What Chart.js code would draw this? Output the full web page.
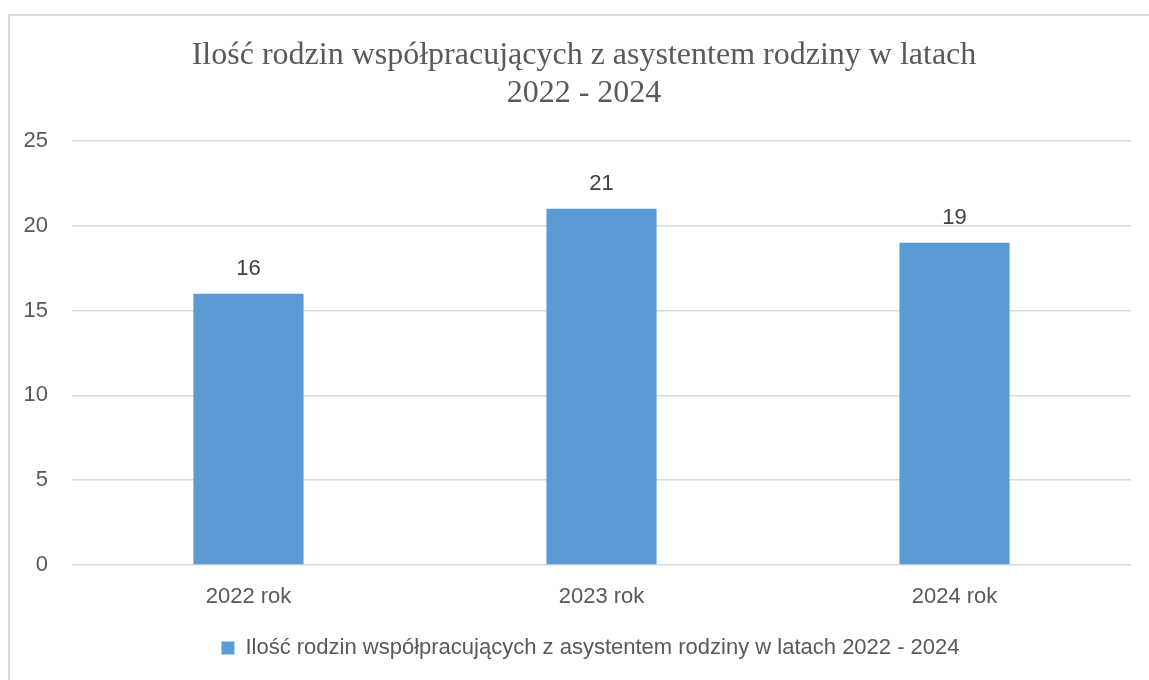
<!DOCTYPE html>
<html>
<head>
<meta charset="utf-8">
<script src="https://cdn.jsdelivr.net/npm/chart.js@4"></script>
<style>
  html, body { margin: 0; padding: 0; background: #ffffff; overflow: hidden; }
  #wrap { position: relative; width: 1149px; height: 680px; }
</style>
</head>
<body>
<div id="wrap"><canvas id="c" width="1149" height="680"></canvas></div>
<script>
const categories = ["2022 rok", "2023 rok", "2024 rok"];
const seriesName = "Ilość rodzin współpracujących z asystentem rodziny w latach 2022 - 2024";
const values = [16, 21, 19];
const titleLines = ["Ilość rodzin współpracujących z asystentem rodziny w latach", "2022 - 2024"];
const yTicks = [0, 5, 10, 15, 20, 25];

const TEXT = "#595959";
const SANS = "'Liberation Sans', Arial, sans-serif";

const framePlugin = {
  id: "frame",
  beforeDraw(chart) {
    const ctx = chart.ctx;
    ctx.save();
    ctx.strokeStyle = "#D9D9D9";
    ctx.lineWidth = 2;
    ctx.strokeRect(9, 15, 1200, 800);
    ctx.restore();
  }
};

const legendShift = {
  id: "legendShift",
  afterLayout(chart) {
    if (chart.legend) {
      chart.legend.left += 25;
      chart.legend.right += 25;
    }
  }
};

const titlePlugin = {
  id: "serifTitle",
  afterDraw(chart) {
    const ctx = chart.ctx;
    ctx.save();
    ctx.fillStyle = TEXT;
    ctx.font = "32px 'Liberation Serif', 'Times New Roman', serif";
    ctx.textAlign = "center";
    ctx.textBaseline = "alphabetic";
    ctx.fillText(titleLines[0], 584, 64);
    ctx.fillText(titleLines[1], 584, 102);
    ctx.restore();
  }
};

const valueLabels = {
  id: "valueLabels",
  afterDatasetsDraw(chart) {
    const ctx = chart.ctx;
    const meta = chart.getDatasetMeta(0);
    ctx.save();
    ctx.fillStyle = "#404040";
    ctx.font = "22px " + SANS;
    ctx.textAlign = "center";
    ctx.textBaseline = "middle";
    meta.data.forEach((el, i) => {
      ctx.fillText(String(chart.data.datasets[0].data[i]), el.x, el.y - 25);
    });
    ctx.restore();
  }
};

new Chart(document.getElementById("c"), {
  type: "bar",
  data: {
    labels: categories,
    datasets: [{
      label: seriesName,
      data: values,
      backgroundColor: "#5B9BD5",
      borderWidth: 0,
      categoryPercentage: 1.0,
      barPercentage: 0.312
    }]
  },
  options: {
    responsive: false,
    animation: false,
    events: [],
    layout: { padding: { left: 0, right: 18, top: 141, bottom: 11 } },
    plugins: {
      title: { display: false },
      tooltip: { enabled: false },
      legend: {
        display: true,
        position: "bottom",
        labels: {
          color: TEXT,
          font: { family: SANS, size: 22 },
          boxWidth: 13,
          boxHeight: 13,
          padding: 10
        }
      }
    },
    scales: {
      x: {
        grid: { display: false, drawTicks: false },
        border: { display: false },
        ticks: { color: TEXT, font: { family: SANS, size: 22 }, padding: 19 },
        afterFit(scale) { scale.height = 62; }
      },
      y: {
        min: 0,
        max: 25,
        afterBuildTicks(scale) { scale.ticks = yTicks.map(v => ({ value: v })); },
        grid: { color: "#D9D9D9", lineWidth: 1.5, drawTicks: false },
        border: { display: false },
        ticks: { color: TEXT, font: { family: SANS, size: 22 }, padding: 24 },
        afterFit(scale) { scale.width = 72; }
      }
    }
  },
  plugins: [framePlugin, legendShift, titlePlugin, valueLabels]
});
</script>
</body>
</html>
